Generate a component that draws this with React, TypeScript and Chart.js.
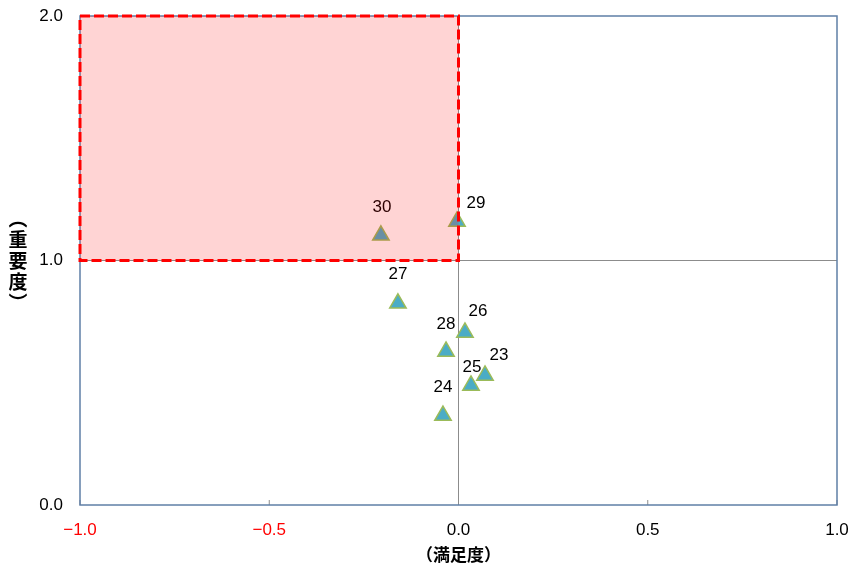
import React, { useEffect, useRef } from "react";
import { Chart, registerables } from "chart.js";

Chart.register(...registerables);

const pointLabels = ["23", "24", "25", "26", "27", "28", "29", "30"];
const satisfaction = [0.07, -0.041, 0.033, 0.017, -0.16, -0.033, -0.004, -0.205];
const importance = [0.53, 0.366, 0.489, 0.706, 0.825, 0.628, 1.16, 1.103];
// label offsets in px (dx, dy) relative to each marker
const labelDx = [14, 0, 1, 13, 0, 0, 19, 1];
const labelDy = [-20, -28, -18, -21, -29, -27, -18, -28];

const xTicks = [-1, -0.5, 0, 0.5, 1];
const yTicks = [0, 1, 2];
const xTitle = "（満足度）";
const yTitleChars = ["︵", "重", "要", "度", "︶"];

const LABEL_FONT = "17px 'Liberation Sans', Arial, sans-serif";
const TITLE_FONT = "bold 17px 'Noto Sans CJK JP', sans-serif";

const overlayPlugin = {
  id: "overlay",
  beforeDatasetsDraw(chart: any) {
    const { ctx, chartArea, scales } = chart;
    const x = scales.x;
    const y = scales.y;
    ctx.save();
    ctx.strokeStyle = "#8c8c8c";
    ctx.lineWidth = 1;
    ctx.beginPath();
    ctx.moveTo(x.getPixelForValue(0), chartArea.top);
    ctx.lineTo(x.getPixelForValue(0), chartArea.bottom);
    ctx.moveTo(chartArea.left, y.getPixelForValue(1));
    ctx.lineTo(chartArea.right, y.getPixelForValue(1));
    ctx.stroke();
    ctx.beginPath();
    xTicks.forEach((v) => {
      const px = x.getPixelForValue(v);
      ctx.moveTo(px, chartArea.bottom);
      ctx.lineTo(px, chartArea.bottom - 5);
    });
    ctx.stroke();
    ctx.strokeStyle = "#5f7fa6";
    ctx.lineWidth = 1.5;
    ctx.strokeRect(chartArea.left, chartArea.top, chartArea.right - chartArea.left, chartArea.bottom - chartArea.top);
    ctx.restore();
  },
  afterDatasetsDraw(chart: any) {
    const { ctx, chartArea, scales } = chart;
    const x = scales.x;
    const y = scales.y;
    ctx.save();
    ctx.font = LABEL_FONT;
    ctx.fillStyle = "#000";
    ctx.textAlign = "center";
    ctx.textBaseline = "middle";
    pointLabels.forEach((lab, i) => {
      const px = x.getPixelForValue(satisfaction[i]) + labelDx[i];
      const py = y.getPixelForValue(importance[i]) + labelDy[i];
      ctx.fillText(lab, px, py);
    });
    const l = x.getPixelForValue(-1);
    const r = x.getPixelForValue(0);
    const t = y.getPixelForValue(2);
    const b = y.getPixelForValue(1);
    ctx.fillStyle = "rgba(255,0,0,0.17)";
    ctx.fillRect(l, t, r - l, b - t);
    ctx.strokeStyle = "#ff0000";
    ctx.lineWidth = 3;
    ctx.setLineDash([10, 4]);
    ctx.strokeRect(l, t, r - l, b - t);
    ctx.setLineDash([]);
    ctx.font = TITLE_FONT;
    ctx.fillStyle = "#000";
    ctx.textAlign = "center";
    ctx.textBaseline = "middle";
    ctx.fillText(xTitle, (chartArea.left + chartArea.right) / 2, chartArea.bottom + 50);
    const cy = y.getPixelForValue(1);
    const step = 21;
    ctx.font = "bold 19px 'Noto Sans CJK JP', sans-serif";
    yTitleChars.forEach((c, i) => {
      ctx.fillText(c, 18, cy + (i - 2) * step);
    });
    ctx.restore();
  },
};

export default function App() {
  const ref = useRef<HTMLCanvasElement>(null);
  useEffect(() => {
    document.body.style.margin = "0";
    const chart = new Chart(ref.current!, {
      type: "scatter",
      data: {
        datasets: [
          {
            data: satisfaction.map((v, i) => ({ x: v, y: importance[i] })),
            pointStyle: "triangle",
            pointRadius: 9.5,
            pointHoverRadius: 9.5,
            backgroundColor: "#4bacc6",
            borderColor: "#9bbb59",
            borderWidth: 1.5,
          },
        ],
      },
      options: {
        animation: false,
        responsive: false,
        devicePixelRatio: 1,
        layout: { padding: { top: 16, right: 13, left: 0, bottom: 0 } },
        plugins: { legend: { display: false }, tooltip: { enabled: false } },
        scales: {
          x: {
            type: "linear",
            min: -1,
            max: 1,
            afterBuildTicks: (axis: any) => {
              axis.ticks = xTicks.map((v) => ({ value: v }));
            },
            afterFit: (axis: any) => {
              axis.height = 64;
              axis.paddingLeft = 0;
              axis.paddingRight = 0;
            },
            grid: { display: false, drawTicks: false },
            border: { display: false },
            ticks: {
              padding: 15,
              maxRotation: 0,
              font: { family: "'Liberation Sans', Arial, sans-serif", size: 17 },
              color: (c: any) => (c.tick && c.tick.value < 0 ? "#ff0000" : "#000000"),
              callback: (v: any) => (v < 0 ? "−" : "") + Math.abs(Number(v)).toFixed(1),
            },
          },
          y: {
            type: "linear",
            min: 0,
            max: 2,
            afterBuildTicks: (axis: any) => {
              axis.ticks = yTicks.map((v) => ({ value: v }));
            },
            afterFit: (axis: any) => {
              axis.width = 80;
              axis.paddingTop = 0;
              axis.paddingBottom = 0;
            },
            grid: { display: false, drawTicks: false },
            border: { display: false },
            ticks: {
              padding: 17,
              font: { family: "'Liberation Sans', Arial, sans-serif", size: 17 },
              color: "#000000",
              callback: (v: any) => Number(v).toFixed(1),
            },
          },
        },
      },
      plugins: [overlayPlugin],
    });
    return () => chart.destroy();
  }, []);
  return (
    <div style={{ position: "absolute", left: 0, top: 0, width: 850, height: 569, background: "#fff" }}>
      <canvas ref={ref} width={850} height={569} style={{ width: 850, height: 569 }} />
    </div>
  );
}
